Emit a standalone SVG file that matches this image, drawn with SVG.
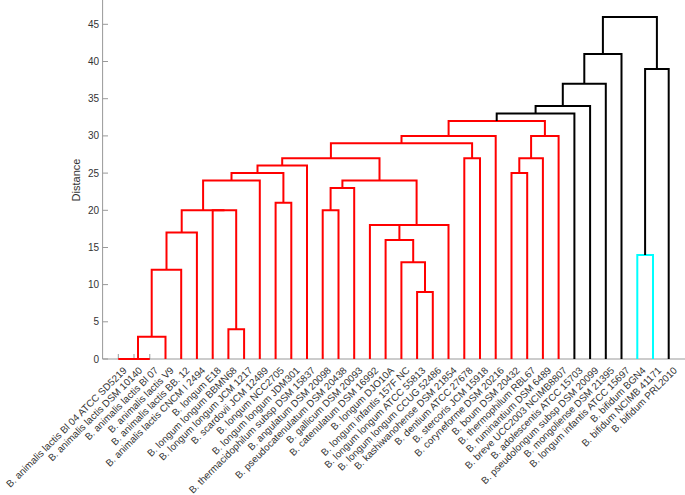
<svg xmlns="http://www.w3.org/2000/svg" width="685" height="495" viewBox="0 0 685 495">
<style>
.ax{stroke:#999;stroke-width:1;fill:none}
.tk{font-family:"Liberation Sans",Arial,sans-serif;font-size:10px;fill:#333;text-anchor:end}
.lb{font-family:"Liberation Sans",Arial,sans-serif;font-size:9.9px;fill:#333;text-anchor:end}
.r{stroke:#ff0000;stroke-width:2;fill:none}
.k{stroke:#000;stroke-width:2;fill:none}
.c{stroke:#00ffff;stroke-width:2;fill:none}
</style>
<rect width="685" height="495" fill="#fff"/>
<g id="axes">
<path class="ax" d="M102.6 0 V359 H685"/>
<path class="ax" d="M102.6 359H108M102.6 321.8H108M102.6 284.6H108M102.6 247.5H108M102.6 210.3H108M102.6 173.1H108M102.6 135.9H108M102.6 98.7H108M102.6 61.5H108M102.6 24.3H108"/>
<path class="ax" d="M118.3 359V354M134 359V354M149.8 359V354M165.5 359V354M181.2 359V354M196.9 359V354M212.7 359V354M228.4 359V354M244.1 359V354M259.8 359V354M275.6 359V354M291.3 359V354M307 359V354M322.7 359V354M338.5 359V354M354.2 359V354M369.9 359V354M385.6 359V354M401.4 359V354M417.1 359V354M432.8 359V354M448.5 359V354M464.3 359V354M480 359V354M495.7 359V354M511.5 359V354M527.2 359V354M542.9 359V354M558.6 359V354M574.4 359V354M590.1 359V354M605.8 359V354M621.5 359V354M637.3 359V354M653 359V354M668.7 359V354"/>
<text class="tk" x="99" y="362.5">0</text>
<text class="tk" x="99" y="325.3">5</text>
<text class="tk" x="99" y="288.1">10</text>
<text class="tk" x="99" y="251">15</text>
<text class="tk" x="99" y="213.8">20</text>
<text class="tk" x="99" y="176.6">25</text>
<text class="tk" x="99" y="139.4">30</text>
<text class="tk" x="99" y="102.2">35</text>
<text class="tk" x="99" y="65">40</text>
<text class="tk" x="99" y="27.8">45</text>
<text font-family="Liberation Sans, Arial, sans-serif" font-size="11" fill="#333" text-anchor="middle" transform="translate(80 180) rotate(-90)">Distance</text>
</g>
<g id="connectors">
<path class="r" d="M118.3 359H134"/>
<path class="r" d="M126.2 359H149.8"/>
<path class="r" d="M138 359V336.7H165.5V359"/>
<path class="r" d="M151.7 336.7V269.8H181.2V359"/>
<path class="r" d="M166.5 269.8V232.6H196.9V359"/>
<path class="r" d="M228.4 359V329.3H244.1V359"/>
<path class="r" d="M212.7 359V210.3H236.2V329.3"/>
<path class="r" d="M181.7 232.6V210.3H224.5"/>
<path class="r" d="M203.1 210.3V180.5H259.8V359"/>
<path class="r" d="M275.6 359V202.8H291.3V359"/>
<path class="r" d="M231.5 180.5V173.1H283.4V202.8"/>
<path class="r" d="M257.5 173.1V165.6H307V359"/>
<path class="r" d="M322.7 359V210.3H338.5V359"/>
<path class="r" d="M330.6 210.3V188H354.2V359"/>
<path class="r" d="M417.1 359V292.1H432.8V359"/>
<path class="r" d="M401.4 359V262.3H425V292.1"/>
<path class="r" d="M385.6 359V240H413.2V262.3"/>
<path class="r" d="M369.9 359V225.1H399.4V240"/>
<path class="r" d="M384.7 225.1H448.5V359"/>
<path class="r" d="M342.4 188V180.5H416.6V225.1"/>
<path class="r" d="M282.2 165.6V158.2H379.5V180.5"/>
<path class="r" d="M464.3 359V158.2H480V359"/>
<path class="r" d="M330.9 158.2V143.3H472.1V158.2"/>
<path class="r" d="M401.5 143.3V135.9H495.7V359"/>
<path class="r" d="M511.5 359V173.1H527.2V359"/>
<path class="r" d="M519.3 173.1V158.2H542.9V359"/>
<path class="r" d="M531.1 158.2V135.9H558.6V359"/>
<path class="r" d="M448.6 135.9V121H544.9V135.9"/>
<path class="k" d="M496.7 121V113.6H574.4V359"/>
<path class="k" d="M535.6 113.6V106.1H590.1V359"/>
<path class="k" d="M562.8 106.1V83.8H605.8V359"/>
<path class="k" d="M584.3 83.8V54.1H621.5V359"/>
<path class="c" d="M637.3 359V254.9H653V359"/>
<path class="k" d="M645.1 254.9V69H668.7V359"/>
<path class="k" d="M602.9 54.1V16.9H656.9V69"/>
</g>
<g id="leaf1"><text class="lb" transform="translate(127.3 371) rotate(-45)">B. animalis lactis Bl 04 ATCC SD5219</text></g>
<g id="leaf2"><text class="lb" transform="translate(143 371) rotate(-45)">B. animalis lactis DSM 10140</text></g>
<g id="leaf3"><text class="lb" transform="translate(158.8 371) rotate(-45)">B. animalis lactis Bl 07</text></g>
<g id="leaf4"><text class="lb" transform="translate(174.5 371) rotate(-45)">B. animalis lactis V9</text></g>
<g id="leaf5"><text class="lb" transform="translate(190.2 371) rotate(-45)">B. animalis lactis BB. 12</text></g>
<g id="leaf6"><text class="lb" transform="translate(205.9 371) rotate(-45)">B. animalis lactis CNCM I 2494</text></g>
<g id="leaf7"><text class="lb" transform="translate(221.7 371) rotate(-45)">B. longum E18</text></g>
<g id="leaf8"><text class="lb" transform="translate(237.4 371) rotate(-45)">B. longum longum BBMN68</text></g>
<g id="leaf9"><text class="lb" transform="translate(253.1 371) rotate(-45)">B. longum longum JCM 1217</text></g>
<g id="leaf10"><text class="lb" transform="translate(268.8 371) rotate(-45)">B. scardovii JCM 12489</text></g>
<g id="leaf11"><text class="lb" transform="translate(284.6 371) rotate(-45)">B. longum NCC2705</text></g>
<g id="leaf12"><text class="lb" transform="translate(300.3 371) rotate(-45)">B. longum longum JDM301</text></g>
<g id="leaf13"><text class="lb" transform="translate(316 371) rotate(-45)">B. thermacidophilum subsp DSM 15837</text></g>
<g id="leaf14"><text class="lb" transform="translate(331.7 371) rotate(-45)">B. angulatum DSM 20098</text></g>
<g id="leaf15"><text class="lb" transform="translate(347.5 371) rotate(-45)">B. pseudocatenulatum DSM 20438</text></g>
<g id="leaf16"><text class="lb" transform="translate(363.2 371) rotate(-45)">B. gallicum DSM 20093</text></g>
<g id="leaf17"><text class="lb" transform="translate(378.9 371) rotate(-45)">B. catenulatum DSM 16992</text></g>
<g id="leaf18"><text class="lb" transform="translate(394.6 371) rotate(-45)">B. longum DJO10A</text></g>
<g id="leaf19"><text class="lb" transform="translate(410.4 371) rotate(-45)">B. longum infantis 157F NC</text></g>
<g id="leaf20"><text class="lb" transform="translate(426.1 371) rotate(-45)">B. longum longum ATCC 55813</text></g>
<g id="leaf21"><text class="lb" transform="translate(441.8 371) rotate(-45)">B. longum longum CCUG 52486</text></g>
<g id="leaf22"><text class="lb" transform="translate(457.5 371) rotate(-45)">B. kashiwanohense DSM 21854</text></g>
<g id="leaf23"><text class="lb" transform="translate(473.3 371) rotate(-45)">B. dentium ATCC 27678</text></g>
<g id="leaf24"><text class="lb" transform="translate(489 371) rotate(-45)">B. stercoris JCM 15918</text></g>
<g id="leaf25"><text class="lb" transform="translate(504.7 371) rotate(-45)">B. coryneforme DSM 20216</text></g>
<g id="leaf26"><text class="lb" transform="translate(520.5 371) rotate(-45)">B. boum DSM 20432</text></g>
<g id="leaf27"><text class="lb" transform="translate(536.2 371) rotate(-45)">B. thermophilum RBL67</text></g>
<g id="leaf28"><text class="lb" transform="translate(551.9 371) rotate(-45)">B. ruminantium DSM 6489</text></g>
<g id="leaf29"><text class="lb" transform="translate(567.6 371) rotate(-45)">B. breve UCC2003 NCIMB8807</text></g>
<g id="leaf30"><text class="lb" transform="translate(583.4 371) rotate(-45)">B. adolescentis ATCC 15703</text></g>
<g id="leaf31"><text class="lb" transform="translate(599.1 371) rotate(-45)">B. pseudolongum subsp DSM 20099</text></g>
<g id="leaf32"><text class="lb" transform="translate(614.8 371) rotate(-45)">B. mongoliense DSM 21395</text></g>
<g id="leaf33"><text class="lb" transform="translate(630.5 371) rotate(-45)">B. longum infantis ATCC 15697</text></g>
<g id="leaf34"><text class="lb" transform="translate(646.3 371) rotate(-45)">B. bifidum BGN4</text></g>
<g id="leaf35"><text class="lb" transform="translate(662 371) rotate(-45)">B. bifidum NCIMB 41171</text></g>
<g id="leaf36"><text class="lb" transform="translate(677.7 371) rotate(-45)">B. bifidum PRL2010</text></g>
</svg>
